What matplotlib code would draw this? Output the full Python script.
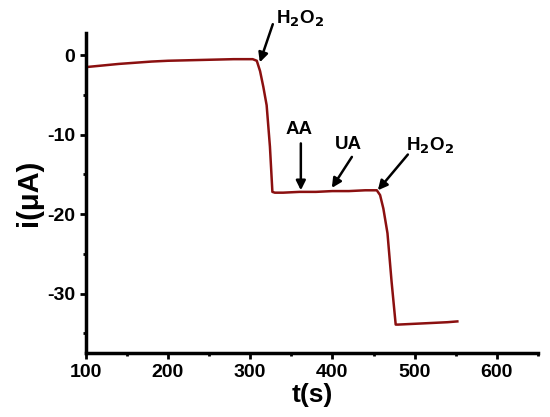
import matplotlib
matplotlib.use("Agg")
import matplotlib.pyplot as plt
from matplotlib.ticker import MultipleLocator

plt.rcParams['font.family'] = ['Liberation Sans', 'DejaVu Sans']
plt.rcParams['font.weight'] = 'bold'
plt.rcParams['axes.unicode_minus'] = False

# Amperometric trace
t_s = [100, 120, 140, 160, 180, 200, 220, 240, 260, 280, 295, 303, 308, 312, 316, 320,
       324, 327, 330, 340, 360, 380, 400, 420, 440, 454, 458, 462, 467, 472, 477,
       480, 500, 520, 540, 552]
i_uA = [-1.5, -1.3, -1.1, -0.95, -0.8, -0.7, -0.65, -0.6, -0.55, -0.5, -0.5, -0.5, -0.7,
        -2.0, -4.0, -6.3, -11.5, -17.2, -17.3, -17.3, -17.2, -17.2, -17.1, -17.1, -17.0,
        -17.0, -17.6, -19.3, -22.4, -28.5, -33.9, -33.9, -33.8, -33.7, -33.6, -33.5]

# Annotations: label, text position, arrow tail, arrow head
ann_labels = ['H$_\\mathbf{2}$O$_\\mathbf{2}$', 'AA', 'UA', 'H$_\\mathbf{2}$O$_\\mathbf{2}$']
ann_text = [(361, 4.6), (360, -9.4), (419, -11.3), (519, -11.4)]
ann_tail = [(327.5, 3.9), (361.6, -11.1), (423.7, -12.8), (491.8, -12.5)]
ann_head = [(311.7, -0.9), (361.6, -17.0), (399.3, -16.7), (455.3, -17.0)]

fig = plt.figure(figsize=(5.5, 4.17), dpi=100)
ax = fig.add_axes([0.156, 0.153, 0.822, 0.768])
ax.plot(t_s, i_uA, color='#8b1010', lw=1.8)

ax.set_xlim(100, 650)
ax.set_ylim(-37.5, 2.8)
ax.xaxis.set_major_locator(MultipleLocator(100))
ax.xaxis.set_minor_locator(MultipleLocator(50))
ax.yaxis.set_major_locator(MultipleLocator(10))
ax.yaxis.set_minor_locator(MultipleLocator(5))

for s in ['top', 'right']:
    ax.spines[s].set_visible(False)
for s in ['left', 'bottom']:
    ax.spines[s].set_linewidth(2.5)
ax.tick_params(which='major', direction='out', length=4.5, width=2, labelsize=14, pad=3)
ax.tick_params(which='minor', direction='out', length=2.5, width=2)
for lab in ax.get_xticklabels() + ax.get_yticklabels():
    lab.set_fontweight('bold')

ax.set_xlabel('t(s)', fontsize=19, fontweight='bold', labelpad=2)
ax.set_ylabel('i(\u03bcA)', fontsize=21, fontweight='bold', labelpad=3)

for lab, tp, tail, head in zip(ann_labels, ann_text, ann_tail, ann_head):
    ax.annotate('', xy=head, xytext=tail,
                arrowprops=dict(arrowstyle='-|>', color='black', lw=1.8,
                                mutation_scale=14, shrinkA=0, shrinkB=0),
                annotation_clip=False)
    ax.text(tp[0], tp[1], lab, fontsize=13.5, fontweight='bold', ha='center', va='center',
            clip_on=False)

fig.savefig('out.png', dpi=100)
